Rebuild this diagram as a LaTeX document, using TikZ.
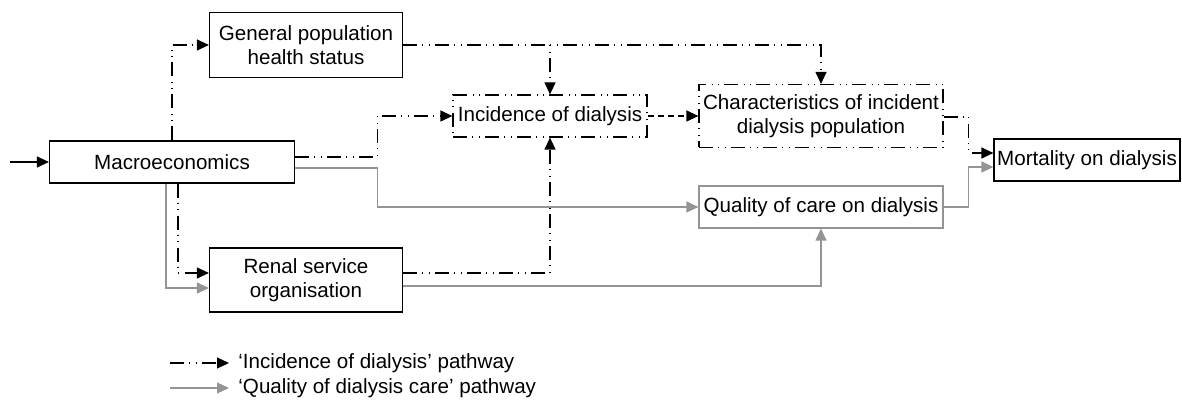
\documentclass[tikz,border=0pt]{standalone}
\usepackage{fontspec}
\setmainfont{Liberation Sans}
\usepackage{tikz}
\usetikzlibrary{positioning,arrows.meta,calc}
\usepackage{xcolor}
\definecolor{qualgray}{gray}{0.58}

\begin{document}
\begin{tikzpicture}[
    x=0.5pt, y=-0.5pt,
    font=\fontsize{10.3}{12}\selectfont,
    box/.style={draw, line width=0.6pt, align=center, minimum width=#1, minimum height=21pt, inner xsep=1pt, inner ysep=1pt},
    incline/.style={line width=0.6pt, dash pattern=on 7pt off 2.5pt on 0.5pt off 2.75pt on 0.5pt off 2.75pt},
    incbox/.style={box=#1, incline},
    incarrow/.style={incline, -{Triangle[length=6pt, width=5.5pt]}},
    qualarrow/.style={draw=qualgray, line width=0.6pt, -{Triangle[length=6pt, width=5.5pt]}},
    legtext/.style={anchor=west, inner xsep=4.5pt, inner ysep=0pt},
]
    \useasboundingbox (0,0) rectangle (1182,400);

    \node[box=122.5pt] (macro) at (172,162) {Macroeconomics};
    \node[box=96.5pt, minimum height=32.5pt] (gen) at (306,45) {General population\\health status};
    \node[incbox=97pt] (incid) at (550,116) {Incidence of dialysis};
    \node[incbox=122pt, minimum height=31.5pt] (chars) at (821,116) {Characteristics of incident\\dialysis population};
    \node[box=122pt, draw=qualgray] (qual) at (821,207) {Quality of care on dialysis};
    \node[box=96.5pt, minimum height=32pt] (renal) at (306,280) {Renal service\\organisation};
    \node[box=93pt] (mort) at (1087,160) {Mortality on dialysis};

    \coordinate (src) at (10,162);
    \draw[line width=0.6pt, -{Triangle[length=6pt, width=5.5pt]}] (src) -- (macro.west);

    \draw[incarrow] (macro.north) |- (gen.west);
    \foreach \b in {incid, chars} {
        \draw[incarrow] (gen.east) -| (\b.north);
    }
    \draw[incarrow] ($(macro.east)+(0,-5)$) -- ++(82,0) |- (incid.west);
    \draw[incarrow] ($(macro.south)+(6,0)$) |- ($(renal.west)+(0,-7)$);
    \draw[incarrow] ($(renal.east)+(0,-7)$) -| (incid.south);
    \draw[line width=0.6pt, dash pattern=on 3pt off 2pt, -{Triangle[length=6pt, width=5.5pt]}] (incid.east) -- (chars.west);
    \draw[incarrow] ($(chars.east)+(0,1)$) -- ++(25,0) |- ($(mort.west)+(0,-7)$);

    \draw[qualarrow] ($(macro.east)+(0,6)$) -- ++(82,0) |- (qual.west);
    \draw[qualarrow] ($(macro.south)+(-6,0)$) |- ($(renal.west)+(0,8)$);
    \draw[qualarrow] ($(renal.east)+(0,6)$) -| (qual.south);
    \draw[qualarrow] (qual.east) -- ++(25,0) |- ($(mort.west)+(0,7)$);

    \coordinate (k1) at (170,363);
    \coordinate (k2) at (170,388);
    \node[legtext] (leg1) at (229,363) {`Incidence of dialysis' pathway};
    \node[legtext] (leg2) at (229,388) {`Quality of dialysis care' pathway};
    \draw[incarrow] (k1) -- (leg1.west);
    \draw[qualarrow] (k2) -- (leg2.west);
\end{tikzpicture}
\end{document}
